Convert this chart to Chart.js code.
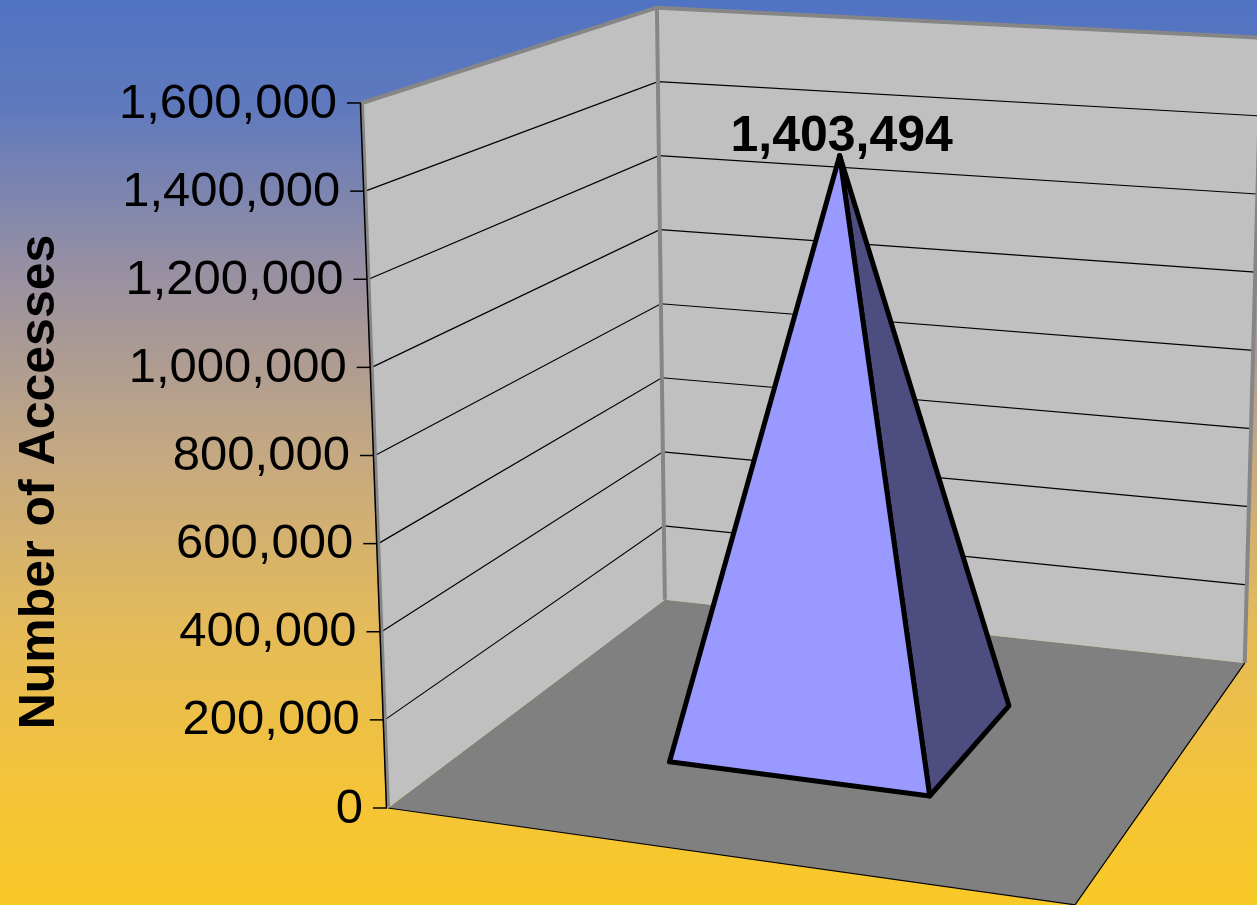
<!DOCTYPE html>
<html>
<head>
<meta charset="utf-8">
<script src="https://cdn.jsdelivr.net/npm/chart.js@4"></script>
<style>
  html, body { margin: 0; padding: 0; background: #f8c828; }
  #wrap { width: 1257px; height: 905px; position: relative; }
</style>
</head>
<body>
<div id="wrap"><canvas id="chart"></canvas></div>
<script>
// data
const categories = ['Accesses'];
const accesses = [1403494];
const yMin = 0;
const yMax = 1600000;
const yStep = 200000;
const yTitle = 'Number of Accesses';

const FONT = 'Arial, "Liberation Sans", sans-serif';

// the 3d box, as fractions of the chart area
function box(chart) {
  const ca = chart.chartArea;
  const w = ca.right - ca.left, h = ca.bottom - ca.top;
  const FL = { x: ca.left, y: ca.bottom };
  const FR = { x: ca.right, y: ca.bottom + 0.141 * w };
  const BL = { x: ca.left + 0.403 * w, y: ca.bottom - 0.303 * w };
  const BR = { x: ca.left + 1.247 * w, y: ca.bottom - 0.211 * w };
  const VFL = { x: -0.037 * h, y: -h };
  const VBL = { x: -0.0113 * h, y: -0.840 * h };
  const VBR = { x: 0.024 * h, y: -0.887 * h };
  const VFR = { x: VFL.x + VBR.x - VBL.x, y: VFL.y + VBR.y - VBL.y };
  const bil = (p00, p10, p01, p11, a, d) => ({
    x: p00.x * (1 - a) * (1 - d) + p10.x * a * (1 - d) + p01.x * (1 - a) * d + p11.x * a * d,
    y: p00.y * (1 - a) * (1 - d) + p10.y * a * (1 - d) + p01.y * (1 - a) * d + p11.y * a * d
  });
  // a: across (0 left .. 1 right), d: depth (0 front .. 1 back), t: height (0 .. 1)
  const P = (a, d, t) => {
    const f = bil(FL, FR, BL, BR, a, d);
    const v = bil(VFL, VFR, VBL, VBR, a, d);
    return { x: f.x + t * v.x, y: f.y + t * v.y };
  };
  const tOf = (py) => (ca.bottom - py) / h;
  return { ca, w, h, P, tOf };
}

function poly(ctx, pts) {
  ctx.beginPath();
  ctx.moveTo(pts[0].x, pts[0].y);
  for (let i = 1; i < pts.length; i++) ctx.lineTo(pts[i].x, pts[i].y);
}

const pyramid3d = {
  id: 'pyramid3d',
  beforeDraw(chart) {
    const ctx = chart.ctx;
    const { P, tOf } = box(chart);
    const yScale = chart.scales.y;

    // background
    const g = ctx.createLinearGradient(0, 0, 0, chart.height);
    g.addColorStop(0, '#5073c2');
    g.addColorStop(0.12, '#6079bd');
    g.addColorStop(0.3, '#9890a2');
    g.addColorStop(0.5, '#c4a882');
    g.addColorStop(0.7, '#e5bb58');
    g.addColorStop(0.88, '#f4c437');
    g.addColorStop(1, '#f9c927');
    ctx.save();
    ctx.fillStyle = g;
    ctx.fillRect(0, 0, chart.width, chart.height);

    // floor
    ctx.fillStyle = '#808080';
    poly(ctx, [P(0, 0, 0), P(1, 0, 0), P(1, 1, 0), P(0, 1, 0)]);
    ctx.closePath();
    ctx.fill();
    ctx.strokeStyle = '#000';
    ctx.lineWidth = 1.2;
    poly(ctx, [P(0, 0, 0), P(1, 0, 0), P(1, 1, 0)]);
    ctx.stroke();

    // walls
    ctx.fillStyle = '#c0c0c0';
    poly(ctx, [P(0, 0, 0), P(0, 1, 0), P(0, 1, 1), P(0, 0, 1)]);
    ctx.closePath();
    ctx.fill();
    poly(ctx, [P(0, 1, 0), P(1, 1, 0), P(1, 1, 1), P(0, 1, 1)]);
    ctx.closePath();
    ctx.fill();

    // gridlines
    const ticks = yScale.ticks.map(tk => tk.value);
    ctx.strokeStyle = '#000';
    ctx.lineWidth = 1.2;
    ticks.forEach(v => {
      if (v <= yMin || v >= yMax) return;
      const t = tOf(yScale.getPixelForValue(v));
      poly(ctx, [P(0, 0, t), P(0, 1, t), P(1, 1, t)]);
      ctx.stroke();
    });

    // wall edges
    ctx.strokeStyle = '#868686';
    ctx.lineWidth = 4;
    ctx.lineJoin = 'round';
    poly(ctx, [P(0, 0, 0.002), P(0, 0, 1), P(0, 1, 1), P(1, 1, 1), P(1, 1, 0)]);
    ctx.stroke();
    poly(ctx, [P(0, 1, 0), P(0, 1, 1)]);
    ctx.stroke();

    // value axis line, ticks and labels
    ctx.strokeStyle = '#000';
    ctx.lineWidth = 1.5;
    const a0 = P(0, 0, 0), a1 = P(0, 0, 1);
    ctx.beginPath();
    ctx.moveTo(a0.x - 1.5, a0.y);
    ctx.lineTo(a1.x - 1.5, a1.y);
    ctx.stroke();
    ctx.font = '49px ' + FONT;
    ctx.fillStyle = '#000';
    ctx.textAlign = 'right';
    ctx.textBaseline = 'middle';
    yScale.ticks.forEach(tk => {
      const t = tOf(yScale.getPixelForValue(tk.value));
      const p = P(0, 0, t);
      ctx.beginPath();
      ctx.moveTo(p.x - 15, p.y);
      ctx.lineTo(p.x - 1, p.y);
      ctx.stroke();
      ctx.fillText(tk.label, p.x - 25, p.y + 1);
    });

    // axis title
    ctx.translate(40, 482);
    ctx.rotate(-Math.PI / 2);
    ctx.font = 'bold 50px ' + FONT;
    ctx.textAlign = 'center';
    ctx.textBaseline = 'middle';
    ctx.fillText(yTitle, 0, 0);
    ctx.restore();
  },
  beforeDatasetDraw() {
    return false;
  },
  afterDatasetsDraw(chart) {
    const ctx = chart.ctx;
    const { ca, w, P, tOf } = box(chart);
    const meta = chart.getDatasetMeta(0);
    meta.data.forEach((bar, i) => {
      const { x, y, width } = bar.getProps(['x', 'y', 'width'], true);
      const ac = (x - ca.left) / w - 0.012;
      const hw = width / 2 / w;
      const d0 = 0.34, d1 = 0.73, dc = (d0 + d1) / 2;
      const t = tOf(y);
      const A = P(ac - hw, d0, 0), B = P(ac + hw, d0, 0), C = P(ac + hw, d1, 0);
      const apex = P(ac, dc, t);

      ctx.save();
      ctx.lineJoin = 'round';
      ctx.lineWidth = 5;
      ctx.strokeStyle = '#000';
      ctx.fillStyle = '#4d4d80';
      poly(ctx, [B, C, apex]);
      ctx.closePath();
      ctx.fill();
      ctx.stroke();
      ctx.fillStyle = '#9999ff';
      poly(ctx, [A, B, apex]);
      ctx.closePath();
      ctx.fill();
      ctx.stroke();

      ctx.font = 'bold 50px ' + FONT;
      ctx.fillStyle = '#000';
      ctx.textAlign = 'center';
      ctx.textBaseline = 'alphabetic';
      ctx.fillText(accesses[i].toLocaleString('en-US'), apex.x + 2, apex.y - 4);
      ctx.restore();
    });
  }
};

new Chart(document.getElementById('chart'), {
  type: 'bar',
  data: {
    labels: categories,
    datasets: [{
      label: yTitle,
      data: accesses,
      backgroundColor: '#9999ff',
      barPercentage: 0.5,
      categoryPercentage: 0.8
    }]
  },
  options: {
    responsive: true,
    maintainAspectRatio: false,
    animation: false,
    layout: { padding: { left: 388, right: 182, top: 103, bottom: 97 } },
    plugins: { legend: { display: false }, tooltip: { enabled: false } },
    scales: {
      x: { display: false },
      y: {
        display: false,
        min: yMin,
        max: yMax,
        ticks: { stepSize: yStep, callback: v => v.toLocaleString('en-US') }
      }
    }
  },
  plugins: [pyramid3d]
});
</script>
</body>
</html>
